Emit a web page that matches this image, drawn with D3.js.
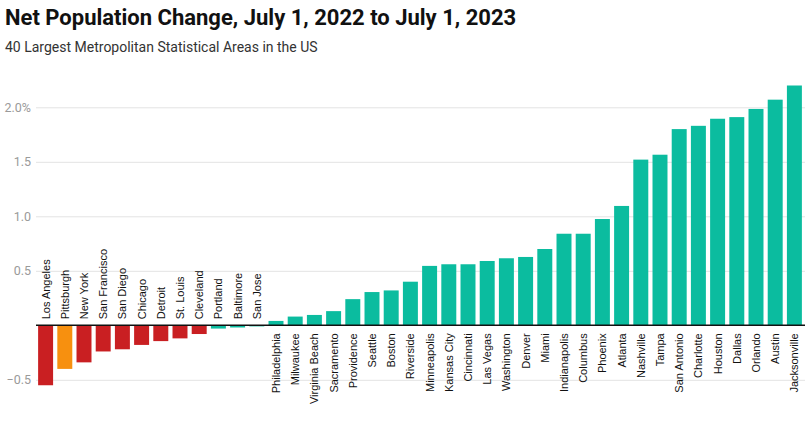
<!DOCTYPE html>
<html>
<head>
<meta charset="utf-8">
<script src="https://cdn.jsdelivr.net/npm/d3@7"></script>
<style>
  body { margin: 0; background: #fff; }
  svg { display: block; }
</style>
</head>
<body>
<svg id="chart" width="810" height="432"></svg>
<script>
const categories = ["Los Angeles","Pittsburgh","New York","San Francisco","San Diego","Chicago","Detroit","St. Louis","Cleveland","Portland","Baltimore","San Jose","Philadelphia","Milwaukee","Virginia Beach","Sacramento","Providence","Seattle","Boston","Riverside","Minneapolis","Kansas City","Cincinnati","Las Vegas","Washington","Denver","Miami","Indianapolis","Columbus","Phoenix","Atlanta","Nashville","Tampa","San Antonio","Charlotte","Houston","Dallas","Orlando","Austin","Jacksonville"];
const values = [-0.55,-0.40,-0.34,-0.24,-0.22,-0.18,-0.145,-0.12,-0.08,-0.03,-0.02,-0.01,0.04,0.08,0.095,0.13,0.24,0.305,0.32,0.40,0.545,0.56,0.56,0.59,0.615,0.627,0.70,0.84,0.84,0.975,1.095,1.52,1.565,1.80,1.83,1.895,1.91,1.985,2.07,2.20];
const groups = ["loss","highlight","loss","loss","loss","loss","loss","loss","loss","gain","gain","gain","gain","gain","gain","gain","gain","gain","gain","gain","gain","gain","gain","gain","gain","gain","gain","gain","gain","gain","gain","gain","gain","gain","gain","gain","gain","gain","gain","gain"];
const tickValues = [-0.5, 0, 0.5, 1.0, 1.5, 2.0];
const tickLabels = ["\u22120.5", "", "0.5", "1.0", "1.5", "2.0%"];
const groupColors = { loss: "#c91f22", highlight: "#f7900f", gain: "#0bbc9f" };

const svg = d3.select("#chart");

svg.append("text").attr("x", 5).attr("y", 25)
  .attr("font-family", "Roboto, 'Noto Sans', sans-serif")
  .attr("font-weight", 700).attr("font-size", 22).attr("fill", "#111")
  .text("Net Population Change, July 1, 2022 to July 1, 2023");
svg.append("text").attr("x", 5).attr("y", 52)
  .attr("font-family", "Roboto, 'Noto Sans', sans-serif")
  .attr("font-size", 14).attr("fill", "#333")
  .text("40 Largest Metropolitan Statistical Areas in the US");

const x = d3.scaleBand().domain(categories).range([36, 804]).paddingInner(0.22).paddingOuter(0.11);
const y = d3.scaleLinear().domain([0, 2.0]).range([325.3, 107.3]);

// gridlines + tick labels
const yAxis = d3.axisLeft(y).tickValues(tickValues)
  .tickFormat((d, i) => tickLabels[i]).tickSize(-(805 - 36));
const gy = svg.append("g").attr("transform", "translate(36,0)").call(yAxis);
gy.select(".domain").remove();
gy.selectAll(".tick line").attr("stroke", "#e3e3e3").attr("stroke-width", 1)
  .attr("display", d => d === 0 ? "none" : null);
gy.selectAll(".tick text").attr("x", -5)
  .attr("font-family", "Roboto, 'Noto Sans', sans-serif")
  .attr("font-size", 12.5).attr("fill", "#9a9a9a");

// bars
const data = categories.map((c, i) => ({ c, v: values[i], g: groups[i] }));
svg.append("g").selectAll("rect").data(data).join("rect")
  .attr("x", d => x(d.c))
  .attr("width", x.bandwidth())
  .attr("y", d => y(Math.max(0, d.v)))
  .attr("height", d => Math.abs(y(d.v) - y(0)))
  .attr("fill", d => groupColors[d.g]);

// zero line
svg.append("line").attr("x1", 36).attr("x2", 805)
  .attr("y1", y(0)).attr("y2", y(0))
  .attr("stroke", "#111").attr("stroke-width", 1.5);

// labels
svg.append("g").selectAll("text").data(data).join("text")
  .attr("transform", d => {
    const cx = x(d.c) + x.bandwidth() / 2 + 4;
    const cy = d.v < 0 ? y(0) - 6 : y(0) + 8;
    return `translate(${cx},${cy}) rotate(-90)`;
  })
  .attr("text-anchor", d => d.v < 0 ? "start" : "end")
  .attr("font-family", "'Liberation Sans', Arial, sans-serif")
  .attr("font-size", 11).attr("fill", "#111")
  .text(d => d.c);
</script>
</body>
</html>
